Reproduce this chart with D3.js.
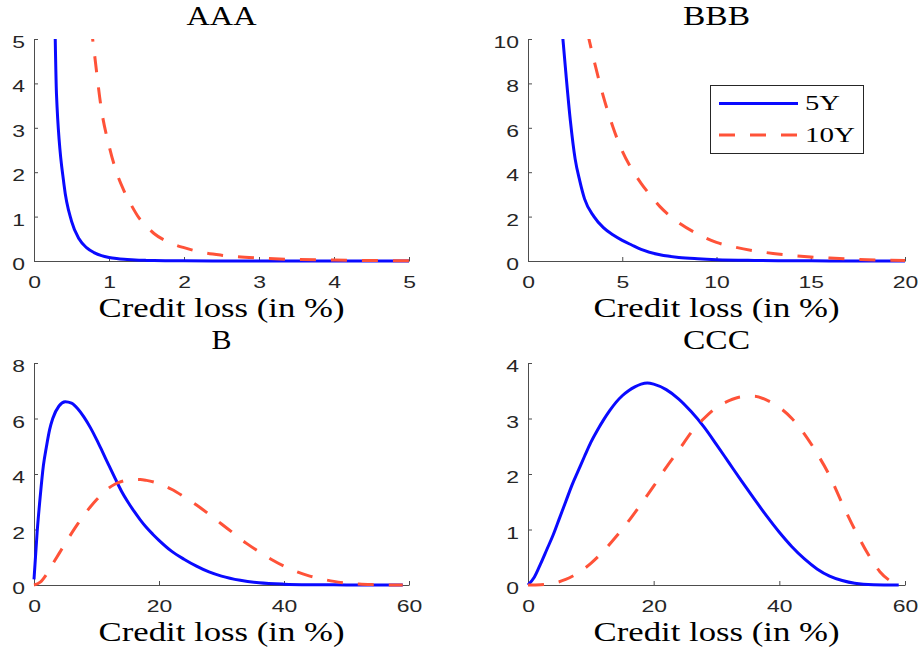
<!DOCTYPE html>
<html>
<head>
<meta charset="utf-8">
<script src="https://cdn.jsdelivr.net/npm/d3@7"></script>
<style>
  body { margin: 0; background: #fff; }
  svg { display: block; }
</style>
</head>
<body>
<svg id="chart" width="922" height="647"></svg>
<script>
// ---- Loss density data (credit loss in %, density) ----
const seriesNames = ["5Y", "10Y"];
const xLabel = "Credit loss (in %)";

// AAA
const aaaLoss5Y = [0.28, 0.3, 0.4, 0.5, 0.6, 0.7, 0.8, 0.9, 1.0, 1.1, 1.2, 1.3, 1.4, 1.5, 1.6, 1.8, 2.0, 2.5, 3, 4, 5];
const aaaDens5Y = [5.3, 3.75, 1.72, 0.9, 0.5, 0.3, 0.19, 0.12, 0.08, 0.055, 0.038, 0.027, 0.019, 0.014, 0.01, 0.006, 0.003, 0.001, 0, 0, 0];
const aaaLoss10Y = [0.76, 0.8, 0.9, 1.0, 1.1, 1.2, 1.3, 1.4, 1.5, 1.6, 1.8, 2.0, 2.2, 2.5, 3.0, 3.5, 4.0, 4.5, 5.0];
const aaaDens10Y = [5.3, 4.75, 3.4, 2.6, 2.0, 1.58, 1.25, 0.97, 0.78, 0.62, 0.42, 0.3, 0.21, 0.13, 0.065, 0.035, 0.02, 0.01, 0.005];

// BBB
const bbbLoss5Y = [1.8, 2.0, 2.25, 2.5, 2.75, 3.0, 3.5, 4.0, 4.5, 5.0, 5.5, 6.0, 7, 8, 9, 10, 12, 14, 16, 20];
const bbbDens5Y = [10.5, 8.55, 6.3, 4.6, 3.6, 2.8, 2.0, 1.5, 1.18, 0.93, 0.72, 0.52, 0.28, 0.16, 0.1, 0.06, 0.025, 0.01, 0.005, 0.001];
const bbbLoss10Y = [3.15, 3.5, 4, 4.5, 5, 5.5, 6, 6.5, 7, 7.5, 8, 9, 10, 11, 12, 13, 14, 15, 16, 17, 18, 19, 20];
const bbbDens10Y = [10.3, 9.05, 7.4, 6.05, 4.95, 4.15, 3.5, 2.95, 2.45, 2.05, 1.72, 1.22, 0.84, 0.62, 0.46, 0.34, 0.25, 0.18, 0.13, 0.09, 0.06, 0.04, 0.025];

// B
const bLoss5Y = [0, 0.5, 1, 1.5, 2, 2.5, 3, 4, 5, 6, 7, 8, 9, 10, 11, 12, 13, 14, 15, 16, 17, 18, 19, 20, 22, 24, 26, 28, 30, 33, 36, 40, 45, 50, 59];
const bDens5Y = [0.2, 1.9, 3.2, 4.3, 5.0, 5.6, 6.0, 6.45, 6.6, 6.55, 6.35, 6.05, 5.68, 5.25, 4.78, 4.3, 3.83, 3.38, 3.0, 2.66, 2.35, 2.07, 1.83, 1.61, 1.22, 0.93, 0.68, 0.47, 0.32, 0.17, 0.08, 0.03, 0.01, 0.003, 0];
const bLoss10Y = [0, 1, 2, 3, 4, 5, 6, 7, 8, 9, 10, 11, 12, 13, 14, 16, 17, 18, 20, 22, 24, 26, 28, 30, 32, 34, 36, 38, 40, 42, 44, 46, 48, 50, 52, 54, 57, 59];
const bDens10Y = [0, 0.1, 0.38, 0.76, 1.13, 1.5, 1.86, 2.2, 2.52, 2.81, 3.07, 3.3, 3.5, 3.64, 3.73, 3.8, 3.8, 3.77, 3.65, 3.45, 3.18, 2.88, 2.55, 2.2, 1.85, 1.5, 1.2, 0.92, 0.68, 0.48, 0.33, 0.22, 0.13, 0.07, 0.035, 0.015, 0, 0];

// CCC
const cccLoss5Y = [0, 1, 2, 3, 4, 5, 6, 7, 8, 9, 10, 11, 12, 13, 14, 15, 16, 17, 18, 19, 20, 22, 24, 26, 28, 30, 32, 34, 36, 38, 40, 42, 44, 46, 48, 50, 52, 55, 59];
const cccDens5Y = [0, 0.14, 0.38, 0.64, 0.9, 1.2, 1.5, 1.8, 2.06, 2.32, 2.57, 2.78, 2.97, 3.14, 3.29, 3.41, 3.5, 3.57, 3.62, 3.64, 3.62, 3.52, 3.35, 3.12, 2.85, 2.53, 2.2, 1.87, 1.55, 1.24, 0.95, 0.69, 0.47, 0.29, 0.16, 0.08, 0.03, 0.005, 0];
const cccLoss10Y = [0, 2, 4, 6, 8, 10, 12, 14, 16, 18, 20, 22, 24, 26, 28, 30, 32, 34, 36, 38, 40, 42, 44, 46, 48, 50, 52, 54, 56, 58, 59];
const cccDens10Y = [0, 0.005, 0.03, 0.1, 0.22, 0.39, 0.61, 0.87, 1.15, 1.46, 1.78, 2.12, 2.43, 2.75, 3.0, 3.2, 3.32, 3.39, 3.4, 3.33, 3.2, 3.0, 2.72, 2.37, 1.97, 1.47, 1.0, 0.58, 0.24, 0.05, 0];

// Axis ticks
const aaaXTicks = [0, 1, 2, 3, 4, 5],  aaaYTicks = [0, 1, 2, 3, 4, 5];
const bbbXTicks = [0, 5, 10, 15, 20],  bbbYTicks = [0, 2, 4, 6, 8, 10];
const bXTicks   = [0, 20, 40, 60],     bYTicks   = [0, 2, 4, 6, 8];
const cccXTicks = [0, 20, 40, 60],     cccYTicks = [0, 1, 2, 3, 4];

// ---- Panel layout ----
const panels = [
  { title: "AAA", titleW: 70, x: [34, 409], y: [261, 39], xDom: [0, 5],  yDom: [0, 5],
    xt: aaaXTicks, yt: aaaYTicks,
    s5: [aaaLoss5Y, aaaDens5Y], s10: [aaaLoss10Y, aaaDens10Y] },
  { title: "BBB", titleW: 67, x: [528, 905], y: [261, 39], xDom: [0, 20], yDom: [0, 10],
    xt: bbbXTicks, yt: bbbYTicks,
    s5: [bbbLoss5Y, bbbDens5Y], s10: [bbbLoss10Y, bbbDens10Y], legend: true },
  { title: "B", titleW: 20, x: [34, 409], y: [585, 363], xDom: [0, 60], yDom: [0, 8],
    xt: bXTicks, yt: bYTicks,
    s5: [bLoss5Y, bDens5Y], s10: [bLoss10Y, bDens10Y] },
  { title: "CCC", titleW: 67, x: [528, 905], y: [585, 363], xDom: [0, 60], yDom: [0, 4],
    xt: cccXTicks, yt: cccYTicks,
    s5: [cccLoss5Y, cccDens5Y], s10: [cccLoss10Y, cccDens10Y] }
];

const BLUE = "#0a0aff";
const RED = "#ff5238";
const DASH = "16,15";
const SERIF = "'Liberation Serif', 'Times New Roman', serif";
const SANS = "'Liberation Sans', Arial, Helvetica, sans-serif";
const STRETCH = 1.35;

const svg = d3.select("#chart");

panels.forEach((p, i) => {
  const x = d3.scaleLinear().domain(p.xDom).range(p.x);
  const y = d3.scaleLinear().domain(p.yDom).range(p.y);
  const g = svg.append("g");

  // clip so curves are cut at the top of the axes
  const clipId = "clip" + i;
  svg.append("clipPath").attr("id", clipId)
    .append("rect")
    .attr("x", p.x[0] - 3).attr("y", p.y[1])
    .attr("width", p.x[1] - p.x[0] + 6).attr("height", p.y[0] - p.y[1] + 5);

  // x axis
  const xa = g.append("g")
    .attr("transform", `translate(0,${p.y[0]})`)
    .call(d3.axisBottom(x).tickValues(p.xt).tickSizeInner(-4).tickSizeOuter(0).tickFormat(d3.format("d")));
  // y axis
  const ya = g.append("g")
    .attr("transform", `translate(${p.x[0]},0)`)
    .call(d3.axisLeft(y).tickValues(p.yt).tickSizeInner(-4).tickSizeOuter(0).tickFormat(d3.format("d")));

  [xa, ya].forEach(a => {
    a.attr("color", "#4d4d4d");
    a.select(".domain").attr("stroke-width", 1);
    a.selectAll(".tick line").attr("stroke-width", 1);
    a.selectAll("text")
      .attr("fill", "#262626")
      .style("font-family", SANS)
      .style("font-size", "17px");
  });
  xa.selectAll("text").attr("y", 27).attr("dy", null)
    .attr("transform", `scale(${STRETCH},1)`);
  ya.selectAll("text").attr("x", -9 / STRETCH).attr("dy", "0.5em")
    .attr("transform", `scale(${STRETCH},1)`);

  // x label
  g.append("text")
    .attr("x", (p.x[0] + p.x[1]) / 2).attr("y", p.y[0] + 56)
    .attr("text-anchor", "middle")
    .attr("textLength", 246).attr("lengthAdjust", "spacingAndGlyphs")
    .style("font-family", SERIF).style("font-size", "27px").attr("fill", "#000")
    .text(xLabel);

  // title
  g.append("text")
    .attr("x", (p.x[0] + p.x[1]) / 2).attr("y", p.y[1] - 14)
    .attr("text-anchor", "middle")
    .attr("textLength", p.titleW).attr("lengthAdjust", "spacingAndGlyphs")
    .style("font-family", SERIF).style("font-size", "27px").attr("fill", "#000")
    .text(p.title);

  const line = d3.line().x(d => x(d[0])).y(d => y(d[1])).curve(d3.curveMonotoneX);
  const plot = g.append("g").attr("clip-path", `url(#${clipId})`);
  plot.append("path")
    .datum(d3.zip(p.s5[0], p.s5[1]))
    .attr("d", line).attr("fill", "none")
    .attr("stroke", BLUE).attr("stroke-width", 3);
  plot.append("path")
    .datum(d3.zip(p.s10[0], p.s10[1]))
    .attr("d", line).attr("fill", "none")
    .attr("stroke", RED).attr("stroke-width", 3)
    .attr("stroke-dasharray", DASH);

  if (p.legend) {
    const lg = g.append("g");
    lg.append("rect")
      .attr("x", 710.5).attr("y", 85.5).attr("width", 153).attr("height", 68)
      .attr("fill", "#fff").attr("stroke", "#262626").attr("stroke-width", 1);
    const items = [
      { name: seriesNames[0], color: BLUE, dash: null, y: 103.5, w: 35 },
      { name: seriesNames[1], color: RED, dash: DASH, y: 135, w: 50 }
    ];
    items.forEach(it => {
      lg.append("line")
        .attr("x1", 719).attr("x2", 798).attr("y1", it.y).attr("y2", it.y)
        .attr("stroke", it.color).attr("stroke-width", 3)
        .attr("stroke-dasharray", it.dash);
      lg.append("text")
        .attr("x", 805).attr("y", it.y + 6.8)
        .attr("textLength", it.w).attr("lengthAdjust", "spacingAndGlyphs")
        .style("font-family", SERIF).style("font-size", "22px").attr("fill", "#000")
        .text(it.name);
    });
  }
});
</script>
</body>
</html>
